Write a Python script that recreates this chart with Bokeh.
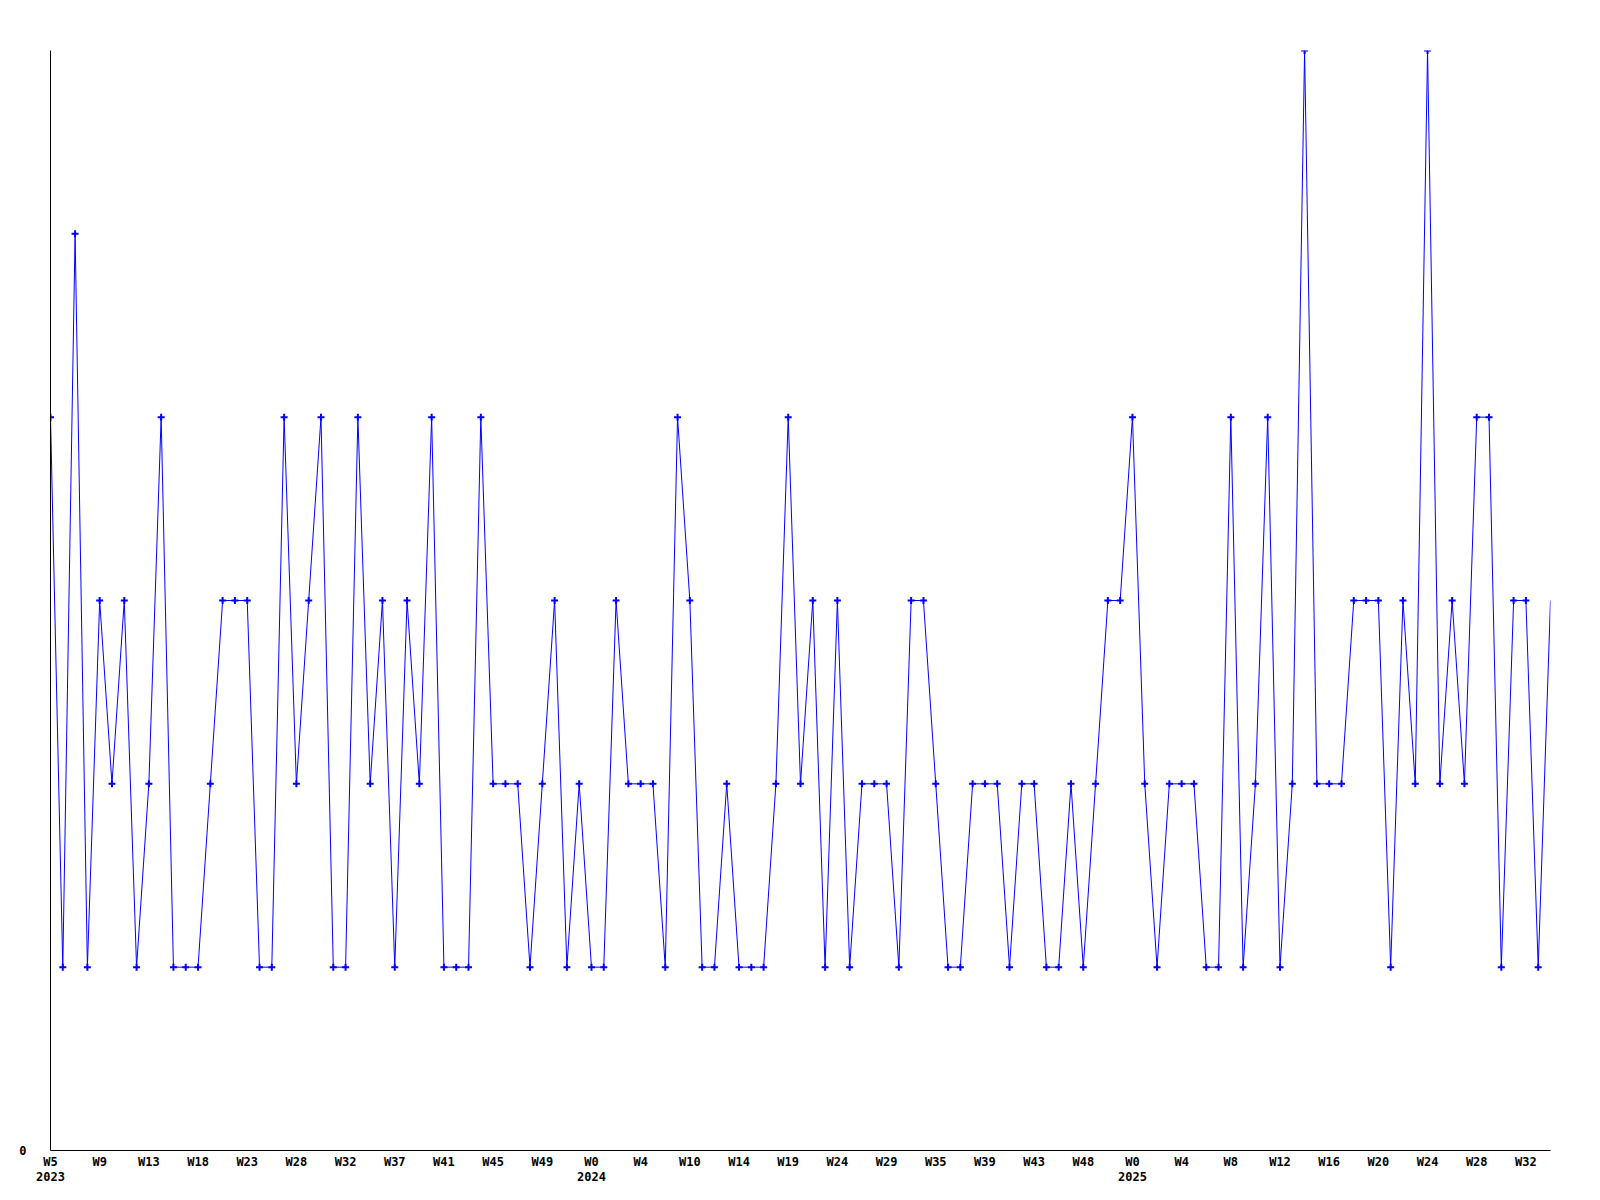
from bokeh.plotting import figure
from bokeh.models import ColumnDataSource, FixedTicker, Range1d, CDSView, IndexFilter
from bokeh.embed import file_html
from bokeh.resources import INLINE

# weekly values (index = week position on the x axis)
values = [4, 1, 5, 1, 3, 2, 3, 1, 2, 4,
          1, 1, 1, 2, 3, 3, 3, 1, 1, 4,
          2, 3, 4, 1, 1, 4, 2, 3, 1, 3,
          2, 4, 1, 1, 1, 4, 2, 2, 2, 1,
          2, 3, 1, 2, 1, 1, 3, 2, 2, 2,
          1, 4, 3, 1, 1, 2, 1, 1, 1, 2,
          4, 2, 3, 1, 3, 1, 2, 2, 2, 1,
          3, 3, 2, 1, 1, 2, 2, 2, 1, 2,
          2, 1, 1, 2, 1, 2, 3, 3, 4, 2,
          1, 2, 2, 2, 1, 1, 4, 1, 2, 4,
          1, 2, 6, 2, 2, 2, 3, 3, 3, 1,
          3, 2, 6, 2, 3, 2, 4, 4, 1, 3,
          3, 1, 3]

week_labels = ["W5", "W9", "W13", "W18", "W23", "W28", "W32", "W37", "W41", "W45",
               "W49", "W0", "W4", "W10", "W14", "W19", "W24", "W29", "W35", "W39",
               "W43", "W48", "W0", "W4", "W8", "W12", "W16", "W20", "W24", "W28", "W32"]
label_step = 4
year_labels = {0: "2023", 44: "2024", 88: "2025"}
y_max = 6

n = len(values)
xs = list(range(n))
src = ColumnDataSource(data=dict(x=xs, y=values))

FONT = "DejaVu Sans Mono"

ticks = [i * label_step for i in range(len(week_labels))]
overrides = {}
for t, lab in zip(ticks, week_labels):
    overrides[t] = lab + ("\n" + year_labels[t] if t in year_labels else "")

p = figure(frame_width=1500, frame_height=1100, output_backend="svg", toolbar_location=None,
           x_range=Range1d(0, n - 1), y_range=Range1d(0, y_max),
           min_border_left=50, min_border_right=40, min_border_top=50, min_border_bottom=10)
p.background_fill_color = "white"
p.border_fill_color = "white"
p.outline_line_color = None
p.grid.visible = False

p.line("x", "y", source=src, line_color="#0000ff", line_width=1)
p.scatter("x", "y", source=src, view=CDSView(filter=IndexFilter(list(range(n - 1)))),
          marker="cross", size=7, line_width=2, line_color="#0000ff")

p.xaxis.ticker = FixedTicker(ticks=ticks)
p.xaxis.major_label_overrides = overrides
p.xaxis.major_label_standoff = -2
p.xaxis.axis_line_color = "black"
p.xaxis.axis_line_width = 1
p.xaxis.major_tick_line_color = None
p.xaxis.minor_tick_line_color = None
p.xaxis.major_label_text_font = FONT
p.xaxis.major_label_text_font_style = "bold"
p.xaxis.major_label_text_font_size = "12px"
p.xaxis.major_label_text_color = "black"
p.xaxis.major_label_text_line_height = 1.1

p.yaxis.ticker = FixedTicker(ticks=[0])
p.yaxis.axis_line_color = "black"
p.yaxis.axis_line_width = 1
p.yaxis.major_tick_line_color = None
p.yaxis.minor_tick_line_color = None
p.yaxis.major_label_standoff = 18
p.yaxis.major_label_text_font = FONT
p.yaxis.major_label_text_font_style = "bold"
p.yaxis.major_label_text_font_size = "12px"
p.yaxis.major_label_text_color = "black"

open("out.html", "w").write(file_html(p, INLINE))
